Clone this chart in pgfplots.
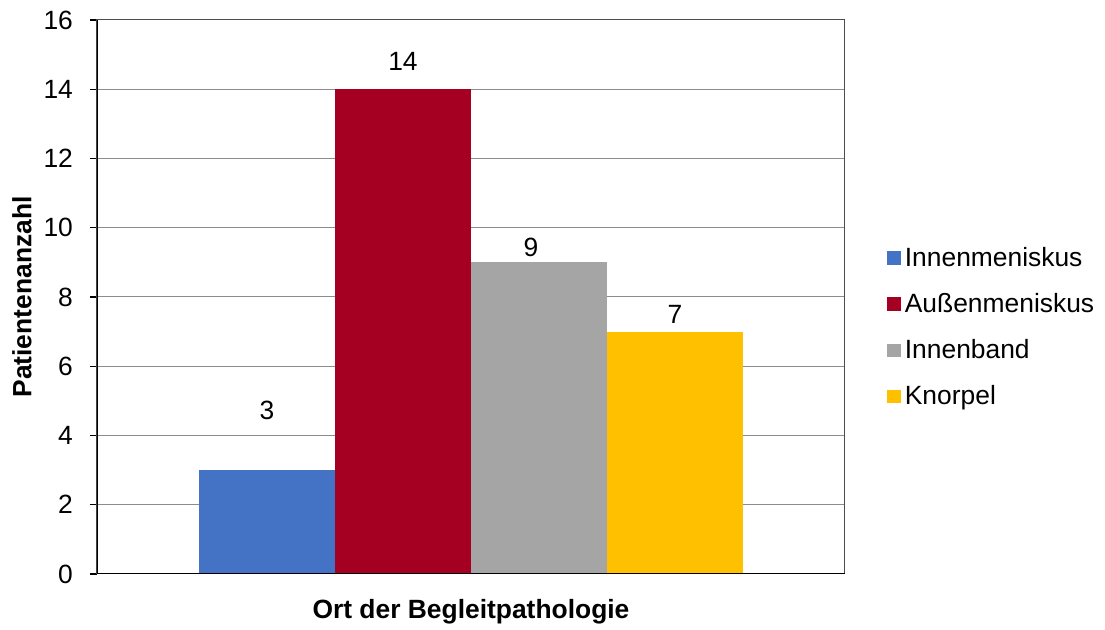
\documentclass[border=0pt]{standalone}
\usepackage{fontspec}
\setmainfont{Liberation Sans}
\usepackage{pgfplots}
\pgfplotsset{compat=1.18}
\definecolor{cblue}{HTML}{4472C4}
\definecolor{cred}{HTML}{A50021}
\definecolor{cgray}{HTML}{A5A5A5}
\definecolor{cyellow}{HTML}{FFC000}
\begin{document}
\begin{tikzpicture}
\useasboundingbox (-48.5pt,-28pt) rectangle (504pt,287pt);
\begin{axis}[
  scale only axis,
  width=374pt, height=277pt,
  xmin=0, xmax=1, ymin=0, ymax=16,
  ytick={0,2,...,16},
  xtick=\empty,
  ybar=0pt, bar width=68pt,
  ymajorgrids, major grid style={draw=black!45, line width=0.5pt},
  tick align=outside, ytick pos=left,
  major tick length=3.5pt,
  ytick style={draw=black, line width=0.6pt},
  axis line style={draw=black!70, line width=0.5pt},
  font=\fontsize{13.2}{15}\selectfont,
  /pgf/number format/assume math mode=true,
  yticklabel style={font=\fontsize{13.2}{15}\selectfont, xshift=-5pt},
  ylabel={\bfseries Patientenanzahl},
  ylabel style={font=\fontsize{13.2}{15}\selectfont\bfseries, at={(rel axis cs:0,0.5)}, anchor=center, yshift=37.5pt},
  xlabel={\bfseries Ort der Begleitpathologie},
  xlabel style={font=\fontsize{13.2}{15}\selectfont\bfseries, at={(rel axis cs:0.5,0)}, anchor=center, yshift=-19pt},
  legend style={draw=none, fill=none, at={(1.056,0.445)}, anchor=west,
    font=\fontsize{13.2}{15}\selectfont, row sep=8pt, inner sep=0pt,
    cells={anchor=west}},
  legend image code/.code={\fill[#1] (0pt,-3.3pt) rectangle (6.8pt,3.5pt);},
  nodes near coords,
  every node near coord/.append style={font=\fontsize{13.2}{15}\selectfont, anchor=center, text=black},
]
\addplot[fill=cblue, draw=none, every node near coord/.append style={yshift=30pt}] coordinates {(0.5,3)};
\addplot[fill=cred, draw=none, every node near coord/.append style={yshift=13.7pt}] coordinates {(0.5,14)};
\addplot[fill=cgray, draw=none, every node near coord/.append style={yshift=7.3pt,xshift=-4pt}] coordinates {(0.5,9)};
\addplot[fill=cyellow, draw=none, every node near coord/.append style={yshift=8.8pt}] coordinates {(0.5,7)};
\legend{Innenmeniskus, Außenmeniskus, Innenband, Knorpel}
\draw[black, line width=1pt] (rel axis cs:0,1) -- (rel axis cs:0,0) -- (rel axis cs:1,0);
\end{axis}
\end{tikzpicture}
\end{document}
